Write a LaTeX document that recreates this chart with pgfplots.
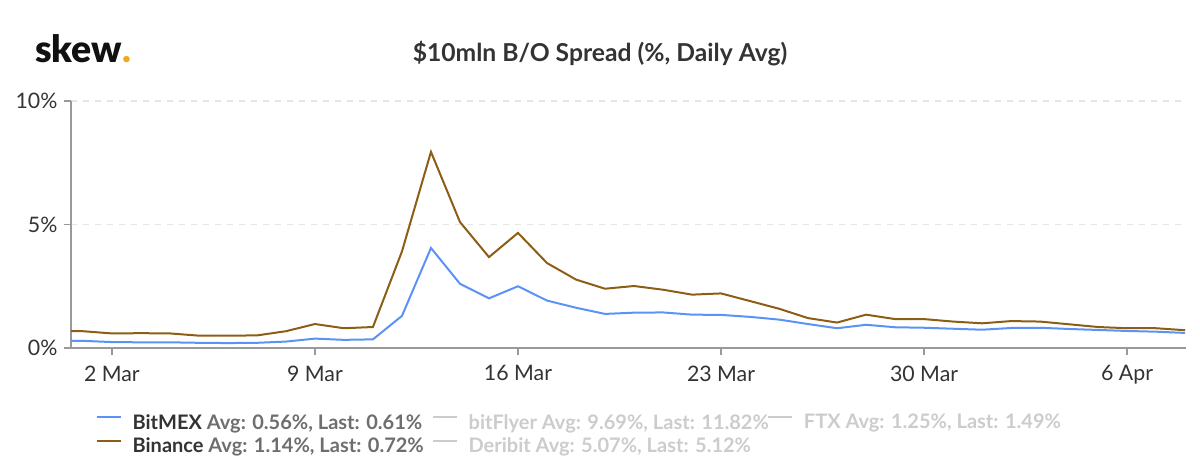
\documentclass[border=0pt]{standalone}
\usepackage{pgfplots}
\pgfplotsset{compat=1.18}
\usepackage{fontspec}
\setmainfont{Lato}
\newfontfamily\latoblack{Lato Black}
\definecolor{cblue}{HTML}{5B93F5}
\definecolor{cbrown}{HTML}{8C5E15}
\definecolor{caxis}{HTML}{999999}
\definecolor{cgrid}{HTML}{E6E6E6}
\definecolor{cdark}{HTML}{333333}
\definecolor{cmid}{HTML}{6E6E6E}
\definecolor{cfade}{HTML}{CCCCCC}
\definecolor{clogo}{HTML}{111111}
\definecolor{corange}{HTML}{F5A623}
\pgfplotstableread{
d bitmex binance
0 0.30 0.70
1 0.29 0.68
2 0.24 0.59
3 0.23 0.60
4 0.23 0.59
5 0.21 0.50
6 0.20 0.50
7 0.21 0.51
8 0.26 0.68
9 0.38 0.97
10 0.33 0.80
11 0.35 0.85
12 1.30 3.91
13 4.05 7.94
14 2.60 5.10
15 2.01 3.68
16 2.50 4.66
17 1.92 3.44
18 1.63 2.77
19 1.38 2.40
20 1.43 2.51
21 1.44 2.36
22 1.35 2.16
23 1.34 2.21
24 1.26 1.90
25 1.15 1.59
26 0.97 1.21
27 0.80 1.03
28 0.94 1.35
29 0.84 1.17
30 0.82 1.17
31 0.78 1.07
32 0.74 1.00
33 0.81 1.09
34 0.82 1.07
35 0.77 0.96
36 0.73 0.85
37 0.69 0.80
38 0.66 0.80
39 0.61 0.72
}\datatable
\begin{document}
\begin{tikzpicture}
\begin{scope}[x=0.75pt,y=-0.75pt]
\path[use as bounding box] (0,0) rectangle (1200,474);
\node[anchor=base west, inner sep=0pt] at (35,63) {\latoblack\fontsize{28pt}{30pt}\selectfont\textcolor{clogo}{skew}\textcolor{corange}{.}};
\node[anchor=base, inner sep=0pt] at (600,62) {\bfseries\fontsize{18.5pt}{21pt}\selectfont\textcolor{cdark}{\$10mln B/O Spread (\%, Daily Avg)}};
\end{scope}
\begin{axis}[
  at={(53.25pt,-261pt)}, anchor=south west,
  scale only axis, width=836.25pt, height=185.25pt,
  xmin=0.59, xmax=39.03, ymin=0, ymax=10,
  axis x line*=bottom, axis y line*=left,
  axis line style={draw=caxis, line width=1.2pt},
  xtick={2,9,16,23,30,37},
  xticklabels={2 Mar,9 Mar,16 Mar,23 Mar,30 Mar,6 Apr},
  ytick={0,5,10}, yticklabels={0\%,5\%,10\%},
  tick align=outside, major tick length=5pt,
  xtick style={draw=caxis, line width=1.2pt},
  ytick style={draw=caxis, line width=1pt},
  ymajorgrids,
  major grid style={draw=cgrid, line width=1pt, dash pattern=on 4.5pt off 4.5pt},
  ticklabel style={font=\fontsize{16pt}{19pt}\selectfont, text=cdark, inner sep=0pt},
  xticklabel style={yshift=-8pt},
  yticklabel style={xshift=-5pt},
  legend columns=3,
  legend cell align=left,
  legend style={at={(0.0224,-0.268)}, anchor=north west, draw=none, fill=none,
    inner sep=0pt, outer sep=0pt,
    font=\bfseries\fontsize{15pt}{18pt}\selectfont,
    row sep=5.2pt,
    nodes={inner sep=0pt},
    /tikz/every odd column/.append style={column sep=8pt}},
  legend image code/.code={\draw[#1, line width=1.5pt] (0pt,4pt) -- (18pt,4pt);},
]
\addplot[cblue, line width=1.5pt] table[x=d, y=bitmex] {\datatable};
\addlegendentry{\makebox[224.5pt][l]{\textcolor{cdark}{BitMEX} \textcolor{cmid}{Avg: 0.56\%, Last: 0.61\%}}}
\addlegendimage{cfade}
\addlegendentry{\makebox[224pt][l]{\textcolor{cfade}{bitFlyer Avg: 9.69\%, Last: 11.82\%}}}
\addlegendimage{cfade}
\addlegendentry{\textcolor{cfade}{FTX Avg: 1.25\%, Last: 1.49\%}}
\addplot[cbrown, line width=1.5pt] table[x=d, y=binance] {\datatable};
\addlegendentry{\makebox[224.5pt][l]{\textcolor{cdark}{Binance} \textcolor{cmid}{Avg: 1.14\%, Last: 0.72\%}}}
\addlegendimage{cfade}
\addlegendentry{\makebox[224pt][l]{\textcolor{cfade}{Deribit Avg: 5.07\%, Last: 5.12\%}}}
\end{axis}
\end{tikzpicture}
\end{document}
